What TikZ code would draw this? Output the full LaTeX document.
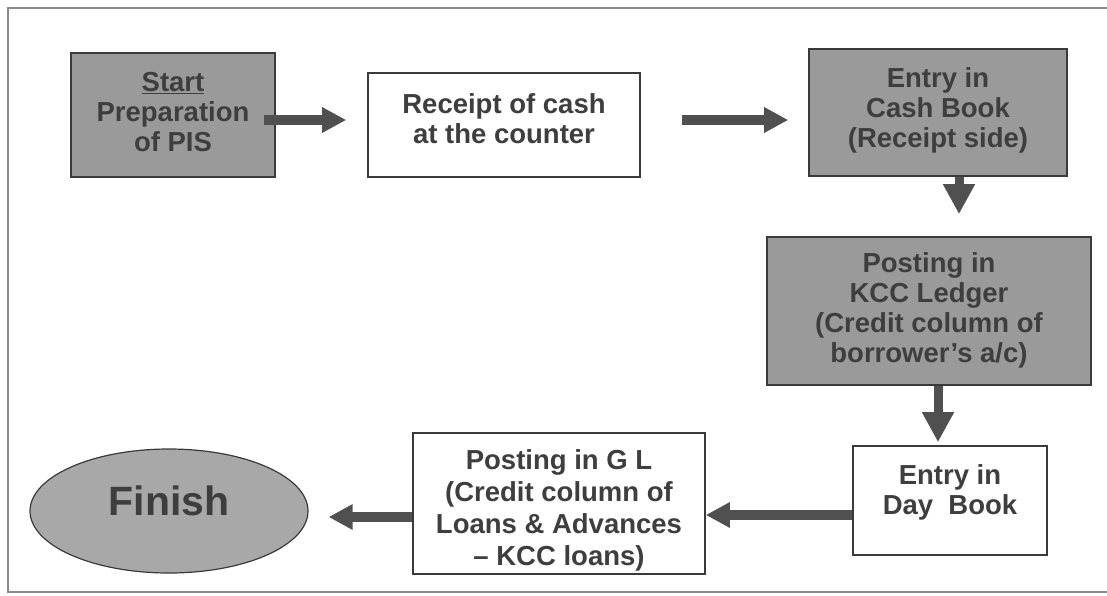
\documentclass[tikz,border=0pt]{standalone}
\usepackage{fontspec}
\setmainfont{Liberation Sans}
\usetikzlibrary{arrows.meta,shapes.geometric}

\definecolor{ink}{HTML}{3E3E3E}
\definecolor{boxline}{HTML}{3A3A3A}
\definecolor{boxgray}{HTML}{9A9A9A}
\definecolor{ovalgray}{HTML}{A8A8A8}
\definecolor{arrowgray}{HTML}{505050}
\definecolor{framegray}{HTML}{8A8A8A}

\tikzset{
  flowbox/.style={draw=boxline, line width=1.6pt, inner sep=0pt},
  shadedbox/.style={flowbox, fill=boxgray},
  plainbox/.style={flowbox, fill=white},
  endoval/.style={flowbox, ellipse, fill=ovalgray, line width=1.2pt},
  boxtext/.style={text=ink, align=center, inner sep=0pt,
    font=\bfseries\fontsize{27.5}{30}\selectfont},
  bigtext/.style={boxtext, font=\bfseries\fontsize{41}{44}\selectfont},
  harrow/.style={draw=arrowgray, line width=10pt,
    -{Triangle[length=24pt,width=24pt]}},
  varrow/.style={draw=arrowgray, line width=9pt,
    -{Triangle[length=30pt,width=30pt]}},
}

\begin{document}
\begin{tikzpicture}[x=1pt,y=-1pt]
  \useasboundingbox (0,0) rectangle (1107,595);

  % outer frame, open on the right
  \draw[framegray, line width=1.5pt] (1107,8) -- (8,8) -- (8,592) -- (1107,592);

  % flow steps: frames
  \node[shadedbox, minimum width=204pt, minimum height=124pt] (start) at (173,115) {};
  \node[plainbox,  minimum width=272pt, minimum height=104pt] (recv)  at (504,125) {};
  \node[shadedbox, minimum width=258pt, minimum height=127pt] (cash)  at (938,112.5) {};
  \node[shadedbox, minimum width=324pt, minimum height=148pt] (kcc)   at (929,311) {};
  \node[plainbox,  minimum width=194pt, minimum height=109pt] (day)   at (950,500.5) {};
  \node[plainbox,  minimum width=292pt, minimum height=141pt] (gl)    at (559,503.5) {};
  \node[endoval,   minimum width=278pt, minimum height=124pt] (fin)   at (169,511) {};

  % flow steps: wording
  \node[boxtext] (start-t) at ([yshift=3pt]start.center)
    {\underline{Start}\\Preparation\\of PIS};
  \node[boxtext] (recv-t) at ([yshift=6pt]recv.center)
    {Receipt of cash\\at the counter};
  \node[boxtext] (cash-t) at ([yshift=2pt]cash.center)
    {Entry in\\Cash Book\\(Receipt side)};
  \node[boxtext] (kcc-t) at ([yshift=1pt]kcc.center)
    {Posting in\\KCC Ledger\\(Credit column of\\borrower’s a/c)};
  \node[boxtext] (day-t) at ([yshift=8pt]day.center)
    {Entry in\\Day~~Book};
  \node[boxtext, font=\bfseries\fontsize{27.5}{32}\selectfont] (gl-t)
    at ([yshift=-7pt]gl.center)
    {Posting in G L\\(Credit column of\\Loans \& Advances\\– KCC loans)};
  \node[bigtext] (fin-t) at ([yshift=10pt]fin.center) {Finish};

  % guide lines for the connectors
  \coordinate (row1) at (0,120);
  \coordinate (row3) at (0,515);
  \coordinate (row4) at (0,517);
  \coordinate (col1) at (959,0);
  \coordinate (col2) at (938,0);

  % connectors
  \draw[harrow] ([xshift=-12pt]start.east |- row1) -- ([xshift=-21pt]recv.west |- row1);
  \draw[harrow] ([xshift=41pt]recv.east |- row1) -- ([xshift=-20pt]cash.west |- row1);
  \draw[varrow] (cash.south -| col1) -- ([yshift=22pt]kcc.north -| col1);
  \draw[varrow] (kcc.south -| col2) -- ([yshift=3pt]day.north -| col2);
  \draw[harrow] (day.west |- row3) -- (gl.east |- row3);
  \draw[harrow] (gl.west |- row4) -- ([xshift=20pt]fin.east |- row4);
\end{tikzpicture}
\end{document}
